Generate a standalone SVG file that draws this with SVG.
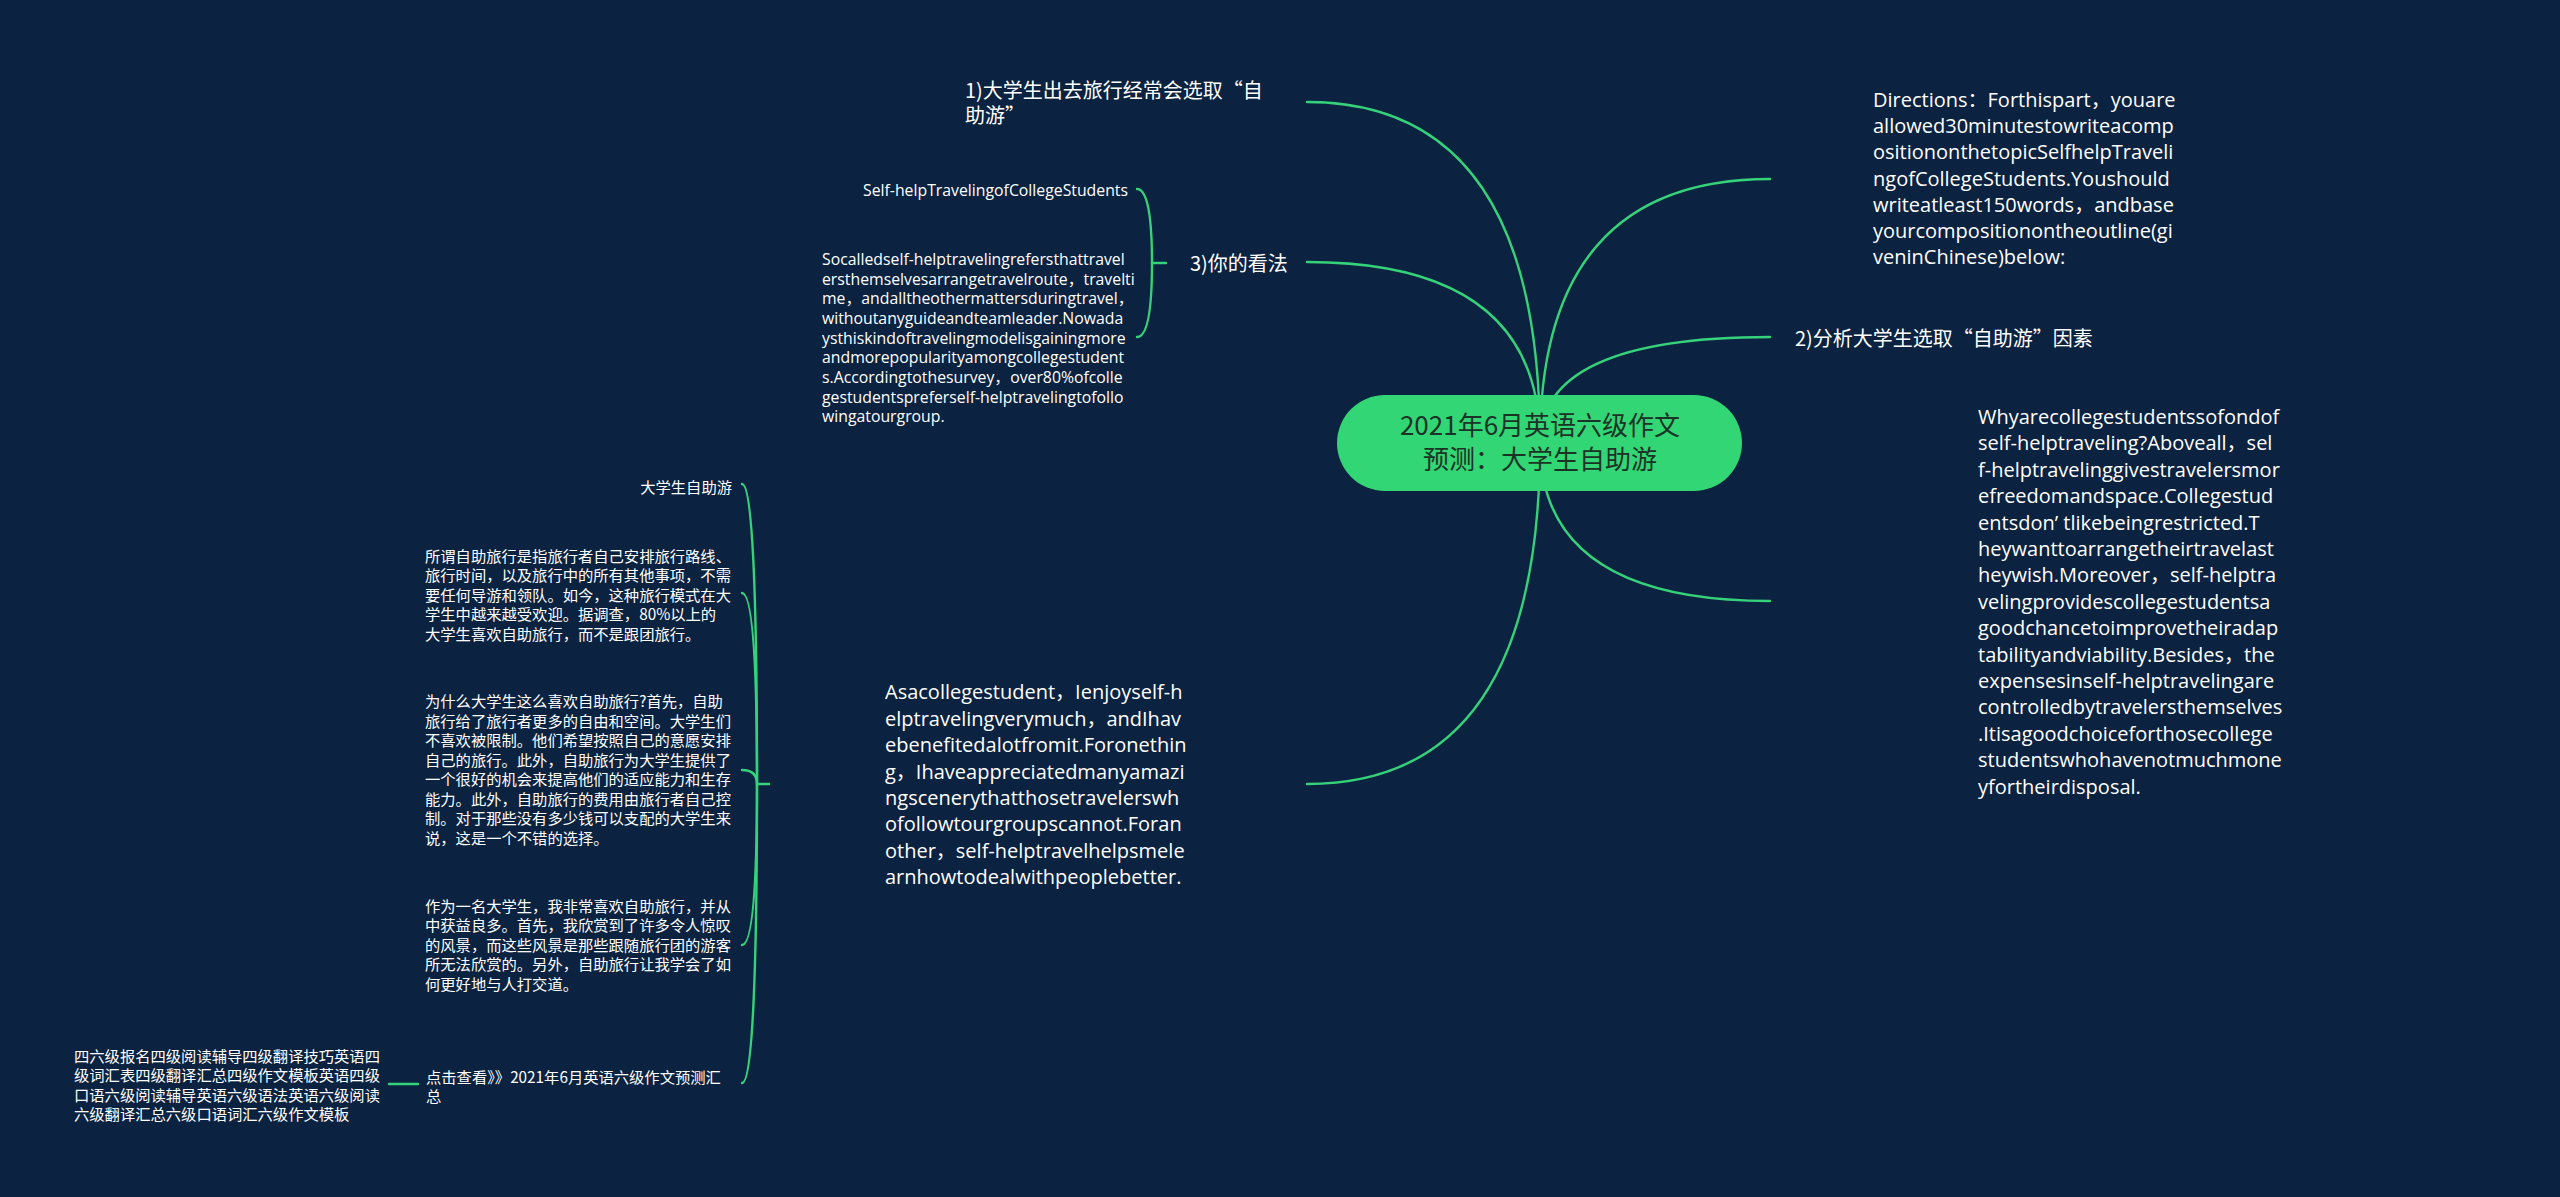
<svg xmlns="http://www.w3.org/2000/svg" width="2560" height="1197" viewBox="0 0 2560 1197">
<style>
.bg{fill:#0b2240}
.ln{fill:none;stroke:#36d27a;stroke-width:2.4;stroke-linecap:round}
.en{fill:#ffffff;font-family:"Open Sans","Noto Sans","Noto Sans CJK SC",sans-serif;font-size:20px}
.en2{fill:#ffffff;font-family:"Open Sans","Noto Sans","Noto Sans CJK SC",sans-serif;font-size:15.8px}
.l1{fill:#ffffff;font-family:"Noto Sans CJK SC","Noto Sans",sans-serif;font-size:20px}
.cn{fill:#ffffff;font-family:"Noto Sans CJK SC","Noto Sans",sans-serif;font-size:15.3px}
.rt{fill:#1b3326;font-family:"Noto Sans CJK SC","Noto Sans",sans-serif;font-size:26px;text-anchor:middle}
</style>
<rect class="bg" x="0" y="0" width="2560" height="1197"/>
<g id="connectors">
<path class="ln" d="M1540,443 Q1540,102 1307,102"/>
<path class="ln" d="M1540,443 Q1540,262 1307,262"/>
<path class="ln" d="M1540,443 Q1540,179 1770,179"/>
<path class="ln" d="M1540,443 Q1540,337 1770,337"/>
<path class="ln" d="M1540,443 Q1540,601 1770,601"/>
<path class="ln" d="M1540,443 Q1540,784 1307,784"/>
<path class="ln" d="M1166,263 L1152,263"/>
<path class="ln" d="M1152,263 Q1152,189 1137,189"/>
<path class="ln" d="M1152,263 Q1152,337 1137,337"/>
<path class="ln" d="M769,784 L757,784"/>
<path class="ln" d="M757,784 Q757,484 742,484"/>
<path class="ln" d="M757,784 Q757,593 742,593"/>
<path class="ln" d="M757,784 Q757,770 742,770"/>
<path class="ln" d="M757,784 Q757,945 742,945"/>
<path class="ln" d="M757,784 Q757,1083 742,1083"/>
<path class="ln" d="M418,1084 L389,1084"/>
</g>
<g id="root">
<rect x="1337" y="395" width="405" height="96" rx="48" fill="#33d674"/>
<text class="rt" x="1540" y="435">2021年6月英语六级作文</text>
<text class="rt" x="1540" y="469">预测：大学生自助游</text>
</g>
<g id="node-1">
<text class="l1" x="965" y="98">1)大学生出去旅行经常会选取“自</text>
<text class="l1" x="965" y="122.5">助游”</text>
</g>
<g id="node-3">
<text class="l1" x="1190" y="270.5">3)你的看法</text>
</g>
<g id="node-3a">
<text class="en2" x="1128" y="196" text-anchor="end">Self-helpTravelingofCollegeStudents</text>
</g>
<g id="node-3b">
<text class="en2" x="822" y="265">Socalledself-helptravelingrefersthattravel</text>
<text class="en2" x="822" y="284.7">ersthemselvesarrangetravelroute，travelti</text>
<text class="en2" x="822" y="304.3">me，andalltheothermattersduringtravel，</text>
<text class="en2" x="822" y="324">withoutanyguideandteamleader.Nowada</text>
<text class="en2" x="822" y="343.6">ysthiskindoftravelingmodelisgainingmore</text>
<text class="en2" x="822" y="363.3">andmorepopularityamongcollegestudent</text>
<text class="en2" x="822" y="383">s.Accordingtothesurvey，over80%ofcolle</text>
<text class="en2" x="822" y="402.6">gestudentspreferself-helptravelingtofollo</text>
<text class="en2" x="822" y="422.3">wingatourgroup.</text>
</g>
<g id="node-directions">
<text class="en" x="1873" y="107">Directions：Forthispart，youare</text>
<text class="en" x="1873" y="133.2">allowed30minutestowriteacomp</text>
<text class="en" x="1873" y="159.4">ositiononthetopicSelfhelpTraveli</text>
<text class="en" x="1873" y="185.6">ngofCollegeStudents.Youshould</text>
<text class="en" x="1873" y="211.8">writeatleast150words，andbase</text>
<text class="en" x="1873" y="238">yourcompositionontheoutline(gi</text>
<text class="en" x="1873" y="264.2">veninChinese)below:</text>
</g>
<g id="node-2">
<text class="l1" x="1795" y="345.5">2)分析大学生选取“自助游”因素</text>
</g>
<g id="node-why">
<text class="en" x="1978" y="424">Whyarecollegestudentssofondof</text>
<text class="en" x="1978" y="450.4">self-helptraveling?Aboveall，sel</text>
<text class="en" x="1978" y="476.8">f-helptravelinggivestravelersmor</text>
<text class="en" x="1978" y="503.2">efreedomandspace.Collegestud</text>
<text class="en" x="1978" y="529.6">entsdon’ tlikebeingrestricted.T</text>
<text class="en" x="1978" y="556">heywanttoarrangetheirtravelast</text>
<text class="en" x="1978" y="582.4">heywish.Moreover，self-helptra</text>
<text class="en" x="1978" y="608.8">velingprovidescollegestudentsa</text>
<text class="en" x="1978" y="635.2">goodchancetoimprovetheiradap</text>
<text class="en" x="1978" y="661.6">tabilityandviability.Besides，the</text>
<text class="en" x="1978" y="688">expensesinself-helptravelingare</text>
<text class="en" x="1978" y="714.4">controlledbytravelersthemselves</text>
<text class="en" x="1978" y="740.8">.Itisagoodchoiceforthosecollege</text>
<text class="en" x="1978" y="767.2">studentswhohavenotmuchmone</text>
<text class="en" x="1978" y="793.6">yfortheirdisposal.</text>
</g>
<g id="node-asa">
<text class="en" x="885" y="699.3">Asacollegestudent，Ienjoyself-h</text>
<text class="en" x="885" y="725.7">elptravelingverymuch，andIhav</text>
<text class="en" x="885" y="752.1">ebenefitedalotfromit.Foronethin</text>
<text class="en" x="885" y="778.5">g，Ihaveappreciatedmanyamazi</text>
<text class="en" x="885" y="804.9">ngscenerythatthosetravelerswh</text>
<text class="en" x="885" y="831.3">ofollowtourgroupscannot.Foran</text>
<text class="en" x="885" y="857.7">other，self-helptravelhelpsmele</text>
<text class="en" x="885" y="884.1">arnhowtodealwithpeoplebetter.</text>
</g>
<g id="node-a1">
<text class="cn" x="732" y="492.5" text-anchor="end">大学生自助游</text>
</g>
<g id="node-a2">
<text class="cn" x="425" y="561.8">所谓自助旅行是指旅行者自己安排旅行路线、</text>
<text class="cn" x="425" y="581.3">旅行时间，以及旅行中的所有其他事项，不需</text>
<text class="cn" x="425" y="600.8">要任何导游和领队。如今，这种旅行模式在大</text>
<text class="cn" x="425" y="620.3">学生中越来越受欢迎。据调查，80%以上的</text>
<text class="cn" x="425" y="639.8">大学生喜欢自助旅行，而不是跟团旅行。</text>
</g>
<g id="node-a3">
<text class="cn" x="425" y="707">为什么大学生这么喜欢自助旅行?首先，自助</text>
<text class="cn" x="425" y="726.5">旅行给了旅行者更多的自由和空间。大学生们</text>
<text class="cn" x="425" y="746">不喜欢被限制。他们希望按照自己的意愿安排</text>
<text class="cn" x="425" y="765.5">自己的旅行。此外，自助旅行为大学生提供了</text>
<text class="cn" x="425" y="785">一个很好的机会来提高他们的适应能力和生存</text>
<text class="cn" x="425" y="804.5">能力。此外，自助旅行的费用由旅行者自己控</text>
<text class="cn" x="425" y="824">制。对于那些没有多少钱可以支配的大学生来</text>
<text class="cn" x="425" y="843.5">说，这是一个不错的选择。</text>
</g>
<g id="node-a4">
<text class="cn" x="425" y="911.8">作为一名大学生，我非常喜欢自助旅行，并从</text>
<text class="cn" x="425" y="931.3">中获益良多。首先，我欣赏到了许多令人惊叹</text>
<text class="cn" x="425" y="950.8">的风景，而这些风景是那些跟随旅行团的游客</text>
<text class="cn" x="425" y="970.3">所无法欣赏的。另外，自助旅行让我学会了如</text>
<text class="cn" x="425" y="989.8">何更好地与人打交道。</text>
</g>
<g id="node-a5">
<text class="cn" x="426" y="1082.8">点击查看》》2021年6月英语六级作文预测汇</text>
<text class="cn" x="426" y="1102.3">总</text>
</g>
<g id="node-a5a">
<text class="cn" x="74" y="1061.5">四六级报名四级阅读辅导四级翻译技巧英语四</text>
<text class="cn" x="74" y="1081">级词汇表四级翻译汇总四级作文模板英语四级</text>
<text class="cn" x="74" y="1100.5">口语六级阅读辅导英语六级语法英语六级阅读</text>
<text class="cn" x="74" y="1120">六级翻译汇总六级口语词汇六级作文模板</text>
</g>
</svg>
